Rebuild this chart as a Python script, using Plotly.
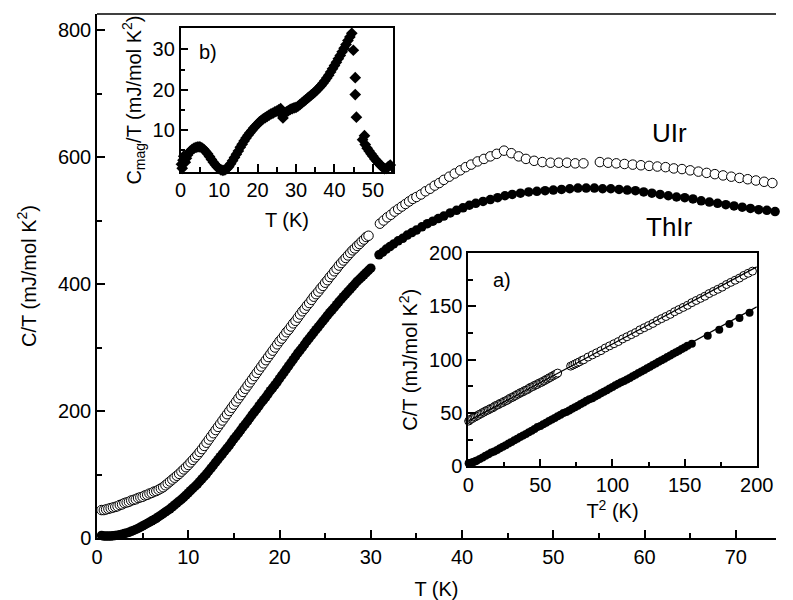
import plotly.graph_objects as go

# ---------------- main panel data ----------------
uir_T = [0.5, 0.75, 1.0, 1.25, 1.5, 1.75, 2.0, 2.25, 2.5, 2.75, 3.0, 3.25, 3.5, 3.75, 4.0, 4.25, 4.5, 4.75, 5.0, 5.25,
         5.5, 5.75, 6.0, 6.25, 6.5, 6.75, 7.0, 7.25, 7.5, 7.75, 8.0, 8.25, 8.5, 8.75, 9.0, 9.25, 9.5, 9.75, 10.0, 10.25,
         10.5, 10.75, 11.0, 11.25, 11.5, 11.75, 12.0, 12.25, 12.5, 12.75, 13.0, 13.25, 13.5, 13.75, 14.0, 14.25, 14.5,
         14.75, 15.0, 15.25, 15.5, 15.75, 16.0, 16.25, 16.5, 16.75, 17.0, 17.25, 17.5, 17.75, 18.0, 18.25, 18.5, 18.75,
         19.0, 19.25, 19.5, 19.75, 20.0, 20.25, 20.5, 20.75, 21.0, 21.25, 21.5, 21.75, 22.0, 22.25, 22.5, 22.75, 23.0,
         23.25, 23.5, 23.75, 24.0, 24.25, 24.5, 24.75, 25.0, 25.25, 25.5, 25.75, 26.0, 26.25, 26.5, 26.75, 27.0, 27.25,
         27.5, 27.75, 28.0, 28.25, 28.5, 28.75, 29.0, 29.25, 29.5, 29.75,
         31.0, 31.4, 31.8, 32.2, 32.6, 33.0, 33.4, 33.8, 34.2, 34.6, 35.0, 35.5, 36.0, 36.5, 37.0, 37.5, 38.0, 38.6, 39.2, 39.8,
         40.4, 41.0, 41.7, 42.4, 43.1, 43.8, 44.6, 45.4, 46.2, 47.0, 47.9, 48.8, 49.7, 50.6, 51.5, 52.4, 53.3,
         55.1, 56.0, 56.9, 57.8, 58.7, 59.6, 60.5, 61.4, 62.3, 63.2, 64.1, 65.0, 65.9, 66.8, 67.7, 68.6, 69.5, 70.4, 71.3, 72.2,
         73.1, 74.0]
uir_C = [44, 44, 45, 46, 47, 48, 49, 50, 52, 53, 55, 56, 57, 59, 60, 61, 63, 64, 65, 67,
         68, 70, 71, 73, 74, 76, 78, 80, 83, 86, 89, 92, 95, 98, 101, 104.5, 108, 111.5, 115, 119,
         123, 127, 131, 135.5, 140, 145, 150, 155, 160, 165, 170, 175, 180, 185, 190, 195, 200,
         205, 210, 215, 220, 225, 230, 235, 240, 245, 250, 255, 260, 265, 270, 275, 280, 285,
         290, 295, 300, 305, 310, 314, 319, 324, 328, 333, 338, 342, 347, 352, 357, 361, 366,
         370, 375, 380, 384, 388, 393, 397, 402, 406, 411, 415, 420, 424, 429, 433, 437, 441,
         445, 449, 453, 456, 460, 463, 467, 470, 474, 476,
         495, 500, 505, 509, 514, 518, 522, 526, 530, 534, 537, 541, 546, 550, 555, 559, 564, 569, 574, 579,
         584, 588, 593, 597, 601, 605, 610, 606, 601, 597, 594, 592, 591, 591, 591, 590, 590,
         592, 591, 590, 589, 588, 587, 586, 585, 584, 582, 581, 579, 577, 575, 573, 571, 569, 567, 565, 563,
         561, 559]

thir_T = [0.5, 0.75, 1.0, 1.25, 1.5, 1.75, 2.0, 2.25, 2.5, 2.75, 3.0, 3.25, 3.5, 3.75, 4.0, 4.25, 4.5, 4.75, 5.0, 5.25,
          5.5, 5.75, 6.0, 6.25, 6.5, 6.75, 7.0, 7.25, 7.5, 7.75, 8.0, 8.25, 8.5, 8.75, 9.0, 9.25, 9.5, 9.75, 10.0, 10.25,
          10.5, 10.75, 11.0, 11.25, 11.5, 11.75, 12.0, 12.25, 12.5, 12.75, 13.0, 13.25, 13.5, 13.75, 14.0, 14.25, 14.5,
          14.75, 15.0, 15.25, 15.5, 15.75, 16.0, 16.25, 16.5, 16.75, 17.0, 17.25, 17.5, 17.75, 18.0, 18.25, 18.5, 18.75,
          19.0, 19.25, 19.5, 19.75, 20.0, 20.25, 20.5, 20.75, 21.0, 21.25, 21.5, 21.75, 22.0, 22.25, 22.5, 22.75, 23.0,
          23.25, 23.5, 23.75, 24.0, 24.25, 24.5, 24.75, 25.0, 25.25, 25.5, 25.75, 26.0, 26.25, 26.5, 26.75, 27.0, 27.25,
          27.5, 27.75, 28.0, 28.25, 28.5, 28.75, 29.0, 29.25, 29.5, 29.75, 30.0,
          30.9, 31.3, 31.7, 32.1, 32.5, 33.0, 33.5, 34.0, 34.5, 35.0, 35.6, 36.2, 36.8, 37.4, 38.0, 38.7, 39.4, 40.1, 40.8, 41.5,
          42.3, 43.1, 43.9, 44.7, 45.5, 46.4, 47.3, 48.2, 49.1, 50.0, 50.9, 51.8, 52.7, 53.6, 54.5, 55.4, 56.3, 57.2, 58.1, 59.0,
          59.9, 60.8, 61.7, 62.6, 63.5, 64.4, 65.3, 66.2, 67.1, 68.0, 68.9, 69.8, 70.7, 71.6, 72.5, 73.4, 74.3]
thir_C = [4, 3, 3, 3, 3, 3.5, 4, 4.5, 5, 6, 7, 8, 9, 10.5, 12, 13.5, 15, 17, 19, 21,
          23, 25, 27, 29, 31, 33.5, 36, 38.5, 41, 43.5, 46, 49, 52, 55, 58, 61, 64, 67.5, 71, 74.5,
          78, 81.5, 85, 89, 93, 97, 101, 105.5, 110, 114.5, 119, 123.5, 128, 132.5, 137, 141.5, 146,
          151, 156, 160.5, 165, 170, 175, 179.5, 184, 189, 194, 198.5, 203, 208, 213, 217.5, 222, 227,
          232, 236.5, 241, 246, 251, 256, 261, 266, 271, 276, 281, 286, 291, 295.5, 300, 305, 310,
          314.5, 319, 323.5, 328, 332.5, 337, 341.5, 346, 350.5, 355, 359, 363, 367.5, 372, 376, 380, 384,
          388, 392, 396, 400, 404, 407.5, 411, 414.5, 418, 421.5, 425,
          446, 450, 455, 459, 463, 468, 472, 477, 481, 485, 490, 495, 499, 503, 507, 512, 516, 520, 524, 527,
          530, 533, 536, 539, 541, 543, 545, 546, 547, 548, 549, 550, 551, 551, 551, 550, 550, 549, 548, 547,
          545, 543, 541, 539, 537, 536, 534, 531, 529, 527, 525, 523, 521, 519, 517, 516, 514]

main_xticks = [0, 10, 20, 30, 40, 50, 60, 70]
main_yticks = [0, 200, 400, 600, 800]

# ---------------- inset a) data: C/T vs T^2 ----------------
a_uir_T2 = [0.3, 1, 2, 3, 4, 5, 6, 7, 8, 9, 10, 11, 12, 13, 14, 15, 16, 17, 18, 19, 20, 21, 22, 23, 24, 25, 26, 27, 28,
            29, 30, 31, 32, 33, 34, 35, 36, 37, 38, 39, 40, 41, 42, 43, 44, 45, 46, 47, 48, 49,
            50, 51, 52, 53, 54, 55, 56, 57, 58, 59, 60, 61, 62, 71, 72.5, 74, 75.5, 77, 79, 80, 83, 86, 89, 92, 95, 98,
            101, 104, 107, 110, 113, 116, 119, 122,
            125, 128, 131, 134, 137, 140, 143, 146, 149, 152, 155, 158, 161, 164, 167, 170, 173, 176, 179, 182, 185,
            188, 191, 194, 197]
a_uir_C = [42.5, 43.5, 44.5, 45, 46, 46.5, 47.5, 48, 49, 49.5, 50.5, 51, 52, 52.5, 53, 54, 54.5, 55, 56, 57, 57.5, 58,
           59, 59.5, 60, 61, 61.5, 62, 63, 64, 64.5, 65, 66, 66.5, 67.5, 68, 69, 69.5, 70, 71, 71.5, 72, 73, 74,
           74.5, 75, 76, 76.5, 77, 78,
           78.5, 79, 80, 80.5, 81.5, 82, 83, 83.5, 84.5, 85, 86, 86.5, 87.5, 94, 95, 96, 97, 98, 99.5, 100, 102.5, 104.5,
           106.5, 108.5, 111, 113, 115, 117, 119.5, 121.5, 123.5, 125.5, 128, 130, 132, 134, 136.5, 138.5, 140.5,
           142.5, 145, 147, 149, 151, 153.5, 155.5, 157.5, 159.5, 162, 164, 166, 168, 170.5, 172.5, 174.5, 176.5,
           179, 181, 183]
a_thir_T2 = [0.3, 1, 2, 3, 4, 5, 6, 8, 10, 12, 14, 16, 18, 20, 22, 24, 26, 28, 30, 32, 34, 36, 38, 40, 42, 44, 46, 48,
             50, 52, 54, 56, 58, 60, 62, 64, 66, 68, 70, 72, 74, 76, 78, 80, 82, 84, 86, 88, 90, 92, 94, 96, 98, 100,
             102, 104, 106, 108, 110, 112, 114, 116, 118, 120, 122, 124, 126, 128, 130, 132, 134, 136, 138, 140, 142,
             144, 146, 148, 150, 152, 155, 166, 174, 181, 188, 195]
a_thir_C = [3, 3, 3.5, 4, 4.5, 5, 5.5, 7, 8.5, 10, 11.5, 13, 14, 15.5, 17, 18.5, 20, 21.5, 23, 24.5, 26, 27.5, 29, 30.5,
            32, 33.5, 35, 37, 38, 39.5, 41, 42.5, 44, 45.5, 47, 48.5, 50, 51, 52.5, 54, 55.5, 57, 58.5, 60, 61.5, 63,
            64, 65.5, 67, 68.5, 70, 71.5, 73, 74.5, 76, 77.5, 79, 80, 81.5, 83, 84.5, 86, 87.5, 89, 90.5, 92, 93.5,
            95, 96.5, 98, 99.5, 101, 102.5, 104, 105.5, 107, 108.5, 110, 111.5, 113, 115, 122.5, 128, 133.5, 139, 144]
a_fit_T2 = [0, 200]
a_fit_uir = [42.5, 187]
a_fit_thir = [1.5, 149.5]
a_ticks = [0, 50, 100, 150, 200]

# ---------------- inset b) data: Cmag/T vs T ----------------
b_T = [0.2, 0.4, 0.6, 0.8, 1.0, 1.2, 1.5, 1.8, 2.1, 2.5, 3.0, 3.5, 4.0, 4.5, 5.0, 5.5, 6.0, 6.5, 7.0, 7.5, 8.0, 8.5,
       9.0, 9.5, 10.0, 10.5, 11.0, 11.5, 12.0, 12.5, 13.0, 13.5, 14.0, 14.5, 15.0, 15.5, 16.0, 16.5, 17.0, 17.5, 18.0,
       18.5, 19.0, 19.5, 20.0, 20.5, 21.0, 21.5, 22.0, 22.5, 23.0, 23.5, 24.0, 24.5, 25.0, 25.5, 26.0, 26.3, 26.6, 27.0,
       27.5, 28.0, 28.5, 29.0, 29.5, 30.0, 30.5, 31.0, 31.5, 32.0, 32.5, 33.0, 33.5, 34.0, 34.5, 35.0, 35.5, 36.0, 36.5,
       37.0, 37.5, 38.0, 38.5, 39.0, 39.5, 40.0, 40.5, 41.0, 41.5, 42.0, 42.5, 43.0, 43.5, 44.0, 44.5, 44.9, 45.4, 45.4,
       45.7, 47.8, 47.3, 48.0, 48.5, 49.0, 49.5, 50.0, 50.5, 51.0, 51.5, 52.0, 52.5, 53.0, 53.5, 54.0, 54.5]
b_Cmag = [1.5, 0.5, 2.5, 3.5, 2.8, 2.0, 3.0, 3.8, 4.3, 4.8, 5.2, 5.5, 5.7, 5.8, 5.8, 5.6, 5.2, 4.7, 4.1, 3.4, 2.7, 2.0,
          1.4, 0.8, 0.4, 0.1, 0.0, 0.1, 0.4, 0.9, 1.6, 2.4, 3.2, 4.0, 4.8, 5.7, 6.5, 7.3, 8.0, 8.7, 9.3,
          9.9, 10.5, 11.0, 11.5, 12.0, 12.4, 12.8, 13.1, 13.4, 13.7, 14.0, 14.2, 14.5, 14.7, 15.0, 15.3, 13.8, 13.0, 14.2,
          14.5, 14.8, 15.1, 15.3, 15.5, 15.6, 15.9, 16.3, 16.7, 17.1, 17.5, 17.9, 18.3, 18.7, 19.1, 19.5, 20.0, 20.5, 21.0,
          21.6, 22.2, 22.9, 23.6, 24.4, 25.2, 26.0, 26.8, 27.7, 28.5, 29.4, 30.3, 31.2, 32.2, 33.1, 34.0, 29.8, 23.0, 18.8,
          13.2, 8.6, 7.6, 6.4, 5.5, 4.8, 4.1, 3.5, 2.8, 2.3, 1.8, 1.2, 0.8, 0.4, 0.5, 0.9, 1.3]
b_xticks = [0, 10, 20, 30, 40, 50]
b_yticks = [10, 20, 30]

# ---------------- figure ----------------
FONT = "Liberation Sans, Arial, Helvetica, sans-serif"
fig = go.Figure()

open_marker = dict(symbol="circle", size=9.5, color="white", line=dict(color="black", width=1))
fill_marker = dict(symbol="circle", size=9.5, color="black", line=dict(color="black", width=0))

fig.add_trace(go.Scatter(x=thir_T, y=thir_C, mode="markers", marker=fill_marker,
                         xaxis="x", yaxis="y", cliponaxis=False, name="ThIr"))
fig.add_trace(go.Scatter(x=uir_T, y=uir_C, mode="markers", marker=open_marker,
                         xaxis="x", yaxis="y", cliponaxis=False, name="UIr"))

# inset a
fig.add_trace(go.Scatter(x=a_uir_T2, y=a_uir_C, mode="markers",
                         marker=dict(symbol="circle", size=8, color="white", line=dict(color="black", width=1)),
                         xaxis="x3", yaxis="y3", cliponaxis=False))
fig.add_trace(go.Scatter(x=a_thir_T2, y=a_thir_C, mode="markers",
                         marker=dict(symbol="circle", size=8, color="black"),
                         xaxis="x3", yaxis="y3", cliponaxis=False))
fig.add_trace(go.Scatter(x=a_fit_T2, y=a_fit_uir, mode="lines", line=dict(color="black", width=1.2),
                         xaxis="x3", yaxis="y3"))
fig.add_trace(go.Scatter(x=a_fit_T2, y=a_fit_thir, mode="lines", line=dict(color="black", width=1.2),
                         xaxis="x3", yaxis="y3"))

# inset b
fig.add_trace(go.Scatter(x=b_T, y=b_Cmag, mode="markers",
                         marker=dict(symbol="diamond", size=9, color="black"),
                         xaxis="x2", yaxis="y2", cliponaxis=False))

tickfont = dict(family=FONT, size=20, color="black")
titlefont = dict(family=FONT, size=20, color="black")
common = dict(showline=True, linecolor="black", linewidth=1.5, ticks="inside", ticklen=8,
              tickwidth=1.5, tickcolor="black", tickfont=tickfont, showgrid=False, zeroline=False)

def minor(d, t0=0):
    return dict(dtick=d, tick0=t0, ticks="inside", ticklen=5, tickcolor="black", tickwidth=1.5)

fig.update_layout(
    width=793, height=600,
    margin=dict(l=97, r=0, t=14, b=62),
    paper_bgcolor="white", plot_bgcolor="white",
    showlegend=False,
    font=dict(family=FONT, size=20, color="black"),
    xaxis=dict(domain=[0, 1], range=[0, 74.4], tickvals=main_xticks, anchor="y",
               title=dict(text="T (K)", font=titlefont, standoff=16),
               minor=minor(5), **common),
    yaxis=dict(domain=[0, 1], range=[0, 825.2], tickvals=main_yticks, anchor="x",
               title=dict(text="C/T (mJ/mol K<sup>2</sup>)", font=titlefont, standoff=16),
               minor=minor(100), **common),
    xaxis2=dict(domain=[0.1231, 0.4364], range=[-0.02, 55.3], tickvals=b_xticks, anchor="y2", mirror=True,
                title=dict(text="T (K)", font=titlefont, standoff=13),
                minor=minor(5), **common),
    yaxis2=dict(domain=[0.6990, 0.9727], range=[-0.35, 35.24], tickvals=b_yticks, anchor="x2", mirror=True,
                title=dict(text="C<sub>mag</sub>/T (mJ/mol K<sup>2</sup>)", font=titlefont, standoff=6),
                minor=minor(5, 5), **common),
    xaxis3=dict(domain=[0.5467, 0.9717], range=[0, 200], tickvals=a_ticks, anchor="y3", mirror=True,
                title=dict(text="T<sup>2</sup> (K)", font=titlefont, standoff=9),
                minor=minor(25), **common),
    yaxis3=dict(domain=[0.1365, 0.5439], range=[0, 200], tickvals=a_ticks, anchor="x3", mirror=True,
                title=dict(text="C/T (mJ/mol K<sup>2</sup>)", font=titlefont, standoff=6),
                minor=minor(25), **common),
)

# top frame line of the main panel
fig.add_shape(type="line", xref="paper", yref="paper", x0=0, x1=1, y0=1, y1=1,
              line=dict(color="black", width=1.5))

ann_font_big = dict(family=FONT, size=26, color="black")
ann_font = dict(family=FONT, size=20, color="black")
for txt, ax, ay, f in [("UIr", 0.8434, 0.7729, ann_font_big),
                       ("ThIr", 0.8434, 0.5935, ann_font_big),
                       ("a)", 0.5963, 0.4924, ann_font),
                       ("b)", 0.1638, 0.9275, ann_font)]:
    fig.add_annotation(text=txt, xref="paper", yref="paper", x=ax, y=ay, xanchor="center", yanchor="middle",
                       showarrow=False, font=f)

fig.write_html("out.html")
